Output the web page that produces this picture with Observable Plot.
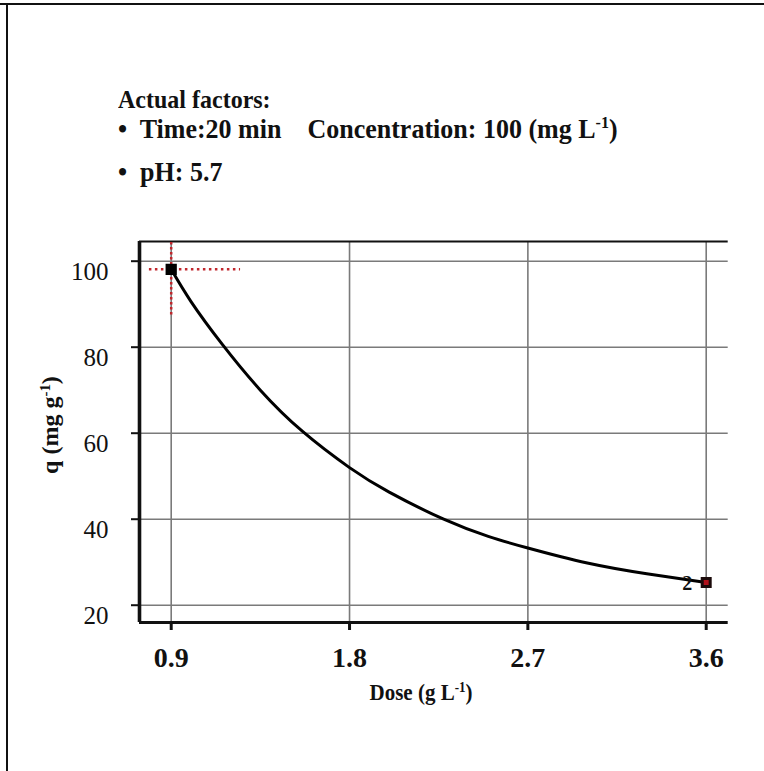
<!DOCTYPE html>
<html>
<head>
<meta charset="utf-8">
<script src="https://cdn.jsdelivr.net/npm/d3@7"></script>
<script src="https://cdn.jsdelivr.net/npm/@observablehq/plot@0.6"></script>
<style>
  html, body { margin: 0; padding: 0; background: #fff; }
  #wrap { position: relative; width: 764px; height: 771px; background: #fff; overflow: hidden;
          font-family: "Liberation Serif", "Times New Roman", serif; color: #111; }
  .bt { position: absolute; left: 0; top: 3px; width: 764px; height: 2px; background: #111; }
  .bl { position: absolute; left: 6px; top: 3px; width: 2px; height: 771px; background: #111; }
  .hd { position: absolute; left: 118px; font-weight: bold; font-size: 26px; white-space: pre; line-height: 1; transform: scaleY(1.08); transform-origin: 0 0; }
  sup { font-size: 0.62em; vertical-align: 0; position: relative; top: -0.55em; }
  #xlab { position: absolute; left: 421px; top: 682px; transform: translateX(-50%) scaleY(1.08); font-weight: bold; font-size: 21px; white-space: nowrap; line-height: 1; }
  #ylab { position: absolute; left: 50px; top: 425px; transform: translate(-50%, -50%) rotate(-90deg); font-weight: bold; font-size: 24px; white-space: nowrap; line-height: 1; }
  #chart { position: absolute; left: 0; top: 220px; }
</style>
</head>
<body>
<div id="wrap">
  <div class="bt"></div>
  <div class="bl"></div>
  <div class="hd" style="top:86px;font-size:24px">Actual factors:</div>
  <div class="hd" style="top:115px">•  Time:20 min    Concentration: 100 (mg L<sup>-1</sup>)</div>
  <div class="hd" style="top:158px">•  pH: 5.7</div>
  <div id="chart"></div>
  <div id="xlab">Dose (g L<sup>-1</sup>)</div>
  <div id="ylab">q (mg g<sup>-1</sup>)</div>
</div>
<script>
// Data
const dose = [0.9, 1.0, 1.157, 1.35, 1.563, 1.8, 2.0, 2.275, 2.5, 2.7, 3.0, 3.3, 3.6];
const q    = [98.1, 90.6, 80.7, 70, 60.4, 52, 46.3, 40, 36, 33.3, 29.8, 27.3, 25.3];
const xTicks = [0.9, 1.8, 2.7, 3.6];
const xTickLabels = ["0.9", "1.8", "2.7", "3.6"];
const yTicks = [20, 40, 60, 80, 100];
const yTickLabels = ["20", "40", "60", "80", "100"];
const xDomain = [0.74, 3.711];
const yDomain = [15.98, 104.58];
// Design points
const startPoint = {dose: 0.9, q: 98.1};
const endPoint = {dose: 3.6, q: 25.3, label: "2"};
// Red dotted cross-hair extents
const crossXExtent = [0.79, 1.25];
const crossYExtent = [87.5, 104.4];

const curve = dose.map((d, i) => ({dose: d, q: q[i]}));
const serif = "Liberation Serif";

const chart = Plot.plot({
  width: 764,
  height: 500,
  marginLeft: 139,
  marginRight: 36.3,
  marginTop: 21,
  marginBottom: 98,
  style: {background: "transparent", color: "#111", overflow: "visible"},
  x: {domain: xDomain},
  y: {domain: yDomain},
  marks: [
    Plot.gridX(xTicks, {stroke: "#7a7a7a", strokeOpacity: 1, strokeWidth: 1.6}),
    Plot.gridY(yTicks, {stroke: "#7a7a7a", strokeOpacity: 1, strokeWidth: 1.6}),
    Plot.ruleY([yDomain[1]], {stroke: "#111", strokeWidth: 2}),
    Plot.ruleY([yDomain[0]], {stroke: "#111", strokeWidth: 3.2}),
    Plot.ruleX([xDomain[0]], {stroke: "#111", strokeWidth: 3.6}),
    Plot.axisX({ticks: xTicks, tickSize: 8, strokeWidth: 3, fill: "none", label: null}),
    Plot.axisY({ticks: yTicks, tickSize: 8, strokeWidth: 2, fill: "none", label: null}),
    Plot.text(xTicks, {x: d => d, y: yDomain[0], text: (d, i) => xTickLabels[i], dy: 36, fontSize: 28, fontWeight: "bold", fontFamily: serif, fill: "#111"}),
    Plot.text(yTicks, {x: xDomain[0], y: d => d, text: (d, i) => yTickLabels[i], dx: -31, dy: 11, textAnchor: "end", fontSize: 25, fontFamily: serif, fill: "#111"}),
    Plot.ruleX([startPoint.dose], {y1: crossYExtent[0], y2: crossYExtent[1], stroke: "#c0262c", strokeWidth: 2.5, strokeDasharray: "2.5,2.5"}),
    Plot.ruleY([startPoint.q], {x1: crossXExtent[0], x2: crossXExtent[1], stroke: "#c0262c", strokeWidth: 2.5, strokeDasharray: "2.5,3.5"}),
    Plot.line(curve, {x: "dose", y: "q", curve: "natural", stroke: "#000", strokeWidth: 3}),
    Plot.dot([startPoint], {x: "dose", y: "q", symbol: "square", r: 5.5, fill: "#000", stroke: "#000", strokeWidth: 1.5}),
    Plot.dot([endPoint], {x: "dose", y: "q", symbol: "square", r: 4.5, fill: "#b0101a", stroke: "#1a0a0a", strokeWidth: 3}),
    Plot.text([endPoint], {x: "dose", y: "q", text: "label", dx: -19, dy: 1, fontSize: 20, fontWeight: "bold", fontFamily: serif, fill: "#111"})
  ]
});
document.getElementById("chart").appendChild(chart);
</script>
</body>
</html>
